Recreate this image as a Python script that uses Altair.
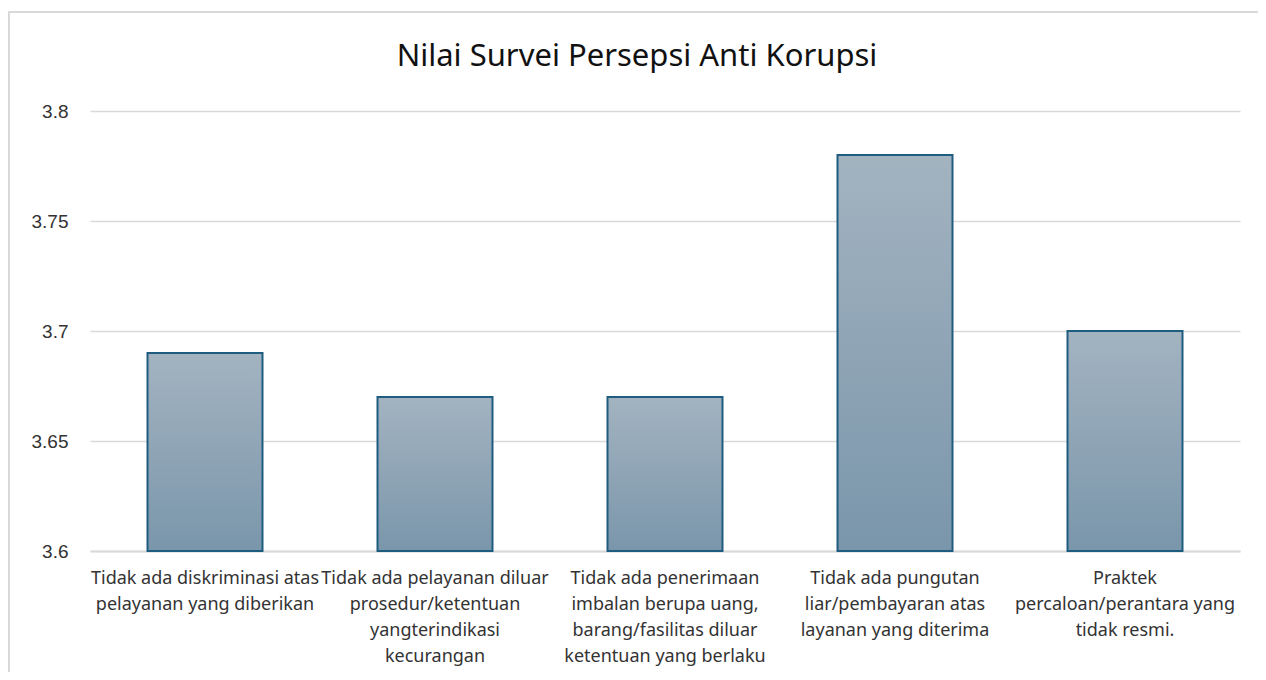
import altair as alt
import pandas as pd

categories = [
    "Tidak ada diskriminasi atas\npelayanan yang diberikan",
    "Tidak ada pelayanan diluar\nprosedur/ketentuan\nyangterindikasi\nkecurangan",
    "Tidak ada penerimaan\nimbalan berupa uang,\nbarang/fasilitas diluar\nketentuan yang berlaku",
    "Tidak ada pungutan\nliar/pembayaran atas\nlayanan yang diterima",
    "Praktek\npercaloan/perantara yang\ntidak resmi.",
]
values = [3.69, 3.67, 3.67, 3.78, 3.70]
y_ticks = [3.6, 3.65, 3.7, 3.75, 3.8]
title_text = "Nilai Survei Persepsi Anti Korupsi"

df = pd.DataFrame({"kategori": categories, "nilai": values})

FONT = "Noto Sans"
W, H = 1150, 440

gradient = alt.LinearGradient(
    gradient="linear",
    stops=[
        alt.GradientStop(color="#a3b3c0", offset=0),
        alt.GradientStop(color="#7a96ab", offset=1),
    ],
    x1=0, x2=0, y1=0, y2=1,
)

one = pd.DataFrame({"f": [0]})

frame = alt.Chart(one).mark_rect(
    fill="white", fillOpacity=0, stroke="#d9d9d9", strokeWidth=2
).encode(
    x=alt.value(-81), x2=alt.value(1200),
    y=alt.value(-99), y2=alt.value(620),
)

title = alt.Chart(one).mark_text(
    text=title_text, font=FONT, fontSize=31, color="#111111",
    align="center", baseline="alphabetic",
).encode(x=alt.value(547), y=alt.value(-45))

bars = alt.Chart(df).mark_bar(
    color=gradient, stroke="#1f5d80", strokeWidth=2
).encode(
    x=alt.X(
        "kategori:N", sort=categories, title=None,
        scale=alt.Scale(paddingInner=0.5, paddingOuter=0.25),
        axis=alt.Axis(
            labelExpr="split(datum.label, '\\n')",
            labelAngle=0, labelLimit=260, labelFont=FONT, labelFontSize=18,
            labelColor="#333333", labelLineHeight=26, labelPadding=18,
            ticks=False, domainColor="#d9d9d9", domainWidth=2,
            labelBaseline="top",
        ),
    ),
    y=alt.Y(
        "nilai:Q", title=None,
        scale=alt.Scale(domain=[3.6, 3.8], zero=False, nice=False),
        axis=alt.Axis(
            values=y_ticks, format="~g", domain=False, ticks=False,
            labelFont="Liberation Sans", labelFontSize=19, labelColor="#333333",
            labelPadding=22, gridColor="#d9d9d9", gridWidth=1.5,
        ),
    ),
    y2=alt.datum(3.6),
)

chart = alt.layer(frame, title, bars).properties(
    width=W, height=H,
    padding={"left": 82, "top": 103, "right": 18, "bottom": 121},
    autosize=alt.AutoSizeParams(type="none"),
).configure_view(stroke=None)

chart.save("out.html", embed_options={"renderer": "svg", "actions": False})
